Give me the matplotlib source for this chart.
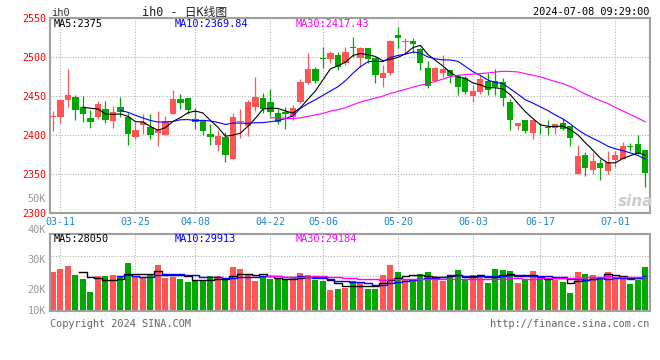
import matplotlib
matplotlib.use("Agg")
import matplotlib.pyplot as plt
import numpy as np
import pandas as pd

plt.rcParams['font.family'] = ['DejaVu Sans Mono', 'Noto Sans CJK SC']

# ih0 daily bars, 2024-03-08 .. 2024-07-05 (80 sessions)
opens = [2423.0, 2423.5, 2445.0, 2448.7, 2436.3, 2421.8, 2423.1, 2433.3, 2418.0, 2435.9,
         2423.5, 2397.4, 2412.4, 2410.7, 2403.0, 2400.4, 2426.9, 2446.2, 2447.4, 2420.5,
         2418.0, 2401.7, 2387.2, 2397.9, 2370.1, 2416.7, 2412.0, 2436.3, 2447.9, 2442.3,
         2428.6, 2429.1, 2423.5, 2442.9, 2466.2, 2484.1, 2499.0, 2497.8, 2502.5, 2491.8,
         2513.2, 2498.2, 2511.1, 2498.2, 2472.6, 2479.0, 2528.2, 2519.6, 2520.9, 2510.2,
         2485.4, 2469.2, 2479.9, 2483.3, 2476.0, 2472.6, 2450.0, 2455.5, 2469.2, 2469.2,
         2468.3, 2442.7, 2411.5, 2420.0, 2403.0, 2408.5, 2410.7, 2409.8, 2415.0, 2411.5,
         2350.0, 2375.2, 2355.1, 2364.5, 2353.8, 2368.0, 2370.1, 2385.9, 2388.5, 2380.8]
closes = [2424.0, 2445.0, 2451.3, 2432.0, 2426.9, 2417.1, 2440.2, 2419.2, 2429.5, 2429.9,
          2401.7, 2406.4, 2417.1, 2400.4, 2406.4, 2418.0, 2446.2, 2441.5, 2432.0, 2416.7,
          2405.5, 2398.1, 2398.7, 2374.4, 2423.5, 2418.4, 2442.7, 2449.1, 2433.3, 2429.1,
          2417.1, 2426.5, 2435.0, 2468.3, 2484.1, 2469.2, 2497.8, 2505.5, 2487.6, 2506.8,
          2512.0, 2511.1, 2497.0, 2476.9, 2479.0, 2520.9, 2523.9, 2520.5, 2516.6, 2492.7,
          2462.8, 2486.3, 2484.1, 2476.0, 2462.0, 2455.5, 2456.8, 2471.3, 2458.0, 2462.0,
          2447.8, 2419.2, 2415.8, 2405.0, 2419.2, 2407.3, 2409.4, 2414.1, 2408.5, 2396.6,
          2373.5, 2358.6, 2366.7, 2358.1, 2365.8, 2374.4, 2385.9, 2384.6, 2375.6, 2351.7]
highs = [2431.0, 2445.5, 2484.6, 2451.3, 2450.0, 2432.0, 2444.0, 2443.2, 2437.2, 2448.7,
         2427.8, 2417.1, 2426.9, 2426.9, 2430.8, 2424.4, 2457.7, 2452.6, 2447.4, 2434.2,
         2418.0, 2414.1, 2406.4, 2404.3, 2428.6, 2432.9, 2444.9, 2473.9, 2454.3, 2459.0,
         2432.9, 2435.5, 2438.4, 2472.0, 2504.7, 2487.6, 2512.4, 2508.0, 2506.8, 2513.2,
         2526.0, 2512.4, 2511.1, 2500.4, 2489.7, 2521.5, 2538.9, 2523.9, 2524.0, 2512.0,
         2495.3, 2487.0, 2502.5, 2484.0, 2478.0, 2476.0, 2464.0, 2476.9, 2480.0, 2484.1,
         2472.6, 2445.8, 2416.0, 2420.0, 2419.2, 2416.2, 2419.2, 2414.1, 2421.4, 2411.5,
         2387.2, 2378.6, 2378.6, 2370.1, 2379.5, 2379.5, 2391.5, 2390.2, 2400.0, 2380.8]
lows = [2405.5, 2416.0, 2436.3, 2419.2, 2416.7, 2409.0, 2421.0, 2415.0, 2409.4, 2423.5,
        2387.6, 2395.3, 2401.7, 2395.7, 2386.3, 2400.0, 2426.9, 2433.3, 2426.9, 2408.5,
        2400.0, 2387.2, 2379.5, 2365.4, 2370.1, 2397.0, 2398.7, 2431.2, 2427.8, 2424.4,
        2414.1, 2407.7, 2420.0, 2441.0, 2466.0, 2466.2, 2485.4, 2492.7, 2483.3, 2489.7,
        2500.4, 2487.6, 2491.8, 2466.2, 2462.0, 2476.9, 2511.1, 2504.7, 2505.0, 2483.3,
        2459.8, 2468.5, 2473.9, 2467.0, 2451.0, 2453.0, 2442.7, 2452.5, 2451.3, 2451.3,
        2437.0, 2406.4, 2406.4, 2403.0, 2395.7, 2402.0, 2400.0, 2402.0, 2406.4, 2385.9,
        2350.0, 2347.9, 2350.0, 2343.2, 2350.9, 2359.4, 2370.1, 2379.9, 2375.6, 2333.8]
volumes = [33400, 35700, 38300, 30600, 27200, 16000, 29700, 29700, 30600, 29700,
           40900, 29700, 28900, 30600, 39200, 28000, 28900, 27200, 24600, 26300,
           26300, 29700, 29700, 26300, 37500, 35700, 30600, 25500, 28900, 27200,
           27200, 26300, 28900, 32300, 30600, 26300, 25500, 17700, 18600, 19500,
           25500, 24600, 18600, 18600, 30600, 39200, 33200, 26300, 25500, 31500,
           33200, 29700, 25500, 30600, 34900, 26300, 30600, 30600, 23700, 35700,
           34900, 34000, 23700, 26300, 34000, 27200, 27200, 26300, 24600, 15200,
           33200, 31500, 30600, 28900, 33200, 28900, 28900, 22900, 26300, 37500]

holidays = ["2024-04-04", "2024-04-05", "2024-05-01", "2024-05-02", "2024-05-03", "2024-06-10"]
tick_dates = ["03-11", "03-25", "04-08", "04-22", "05-06", "05-20", "06-03", "06-17", "07-01"]
price_ticks = [2300, 2350, 2400, 2450, 2500, 2550]
vol_labels = ["50K", "40K", "30K", "20K", "10K"]

ma_price_text = ["MA5:2375", "MA10:2369.84", "MA30:2417.43"]
ma_vol_text = ["MA5:28050", "MA10:29913", "MA30:29184"]

UP = '#ff5555'
DOWN = '#00a800'
MA_COLORS = ['black', '#0000ff', '#ff00ff']
GRID = '#b4b4b4'
FRAME = '#a0a0a0'

days = pd.bdate_range("2024-03-08", "2024-07-05")
days = days[~days.isin(pd.to_datetime(holidays))]
labels = days.strftime("%m-%d")
x = np.arange(len(days))

o = np.array(opens)
c = np.array(closes)
up = c >= o
colors = np.where(up, UP, DOWN)

W, H = 660, 360


def box(left, top, right, bottom):
    return [left / W, 1 - bottom / H, (right - left) / W, (bottom - top) / H]


def px(xp, yp):
    return xp / W, 1 - yp / H


fig = plt.figure(figsize=(6.6, 3.6), dpi=100)
ax = fig.add_axes(box(50, 18, 649.5, 213.3))
axv = fig.add_axes(box(50, 234, 649.5, 311), sharex=ax)

# candles
ax.vlines(x, lows, highs, colors=colors, linewidth=0.9, zorder=2)
body = np.maximum(np.abs(c - o), 0.7)
ax.bar(x, body, bottom=np.minimum(o, c), width=0.82, color=colors, linewidth=0, zorder=3)

# moving averages
close_s = pd.Series(closes)
vol_s = pd.Series(volumes)
for n, col in zip([5, 10, 30], MA_COLORS):
    ax.plot(x, close_s.rolling(n).mean(), color=col, linewidth=0.8, zorder=4)
    axv.plot(x, vol_s.rolling(n).mean(), color=col, linewidth=1.0, drawstyle='steps-mid', zorder=4)

# volume
axv.bar(x, volumes, width=0.8, color=colors, linewidth=0, zorder=2)

tick_pos = [int(np.where(labels == d)[0][0]) for d in tick_dates]

ax.set_xlim(-0.4, 79.55)
ax.set_ylim(2300, 2550)
ax.set_yticks(price_ticks)
ax.set_xticks(tick_pos)
ax.set_xticklabels(tick_dates)
ax.tick_params(axis='y', length=0, pad=3, labelcolor='#ff0000', labelsize=7.2)
ax.tick_params(axis='x', length=0, pad=2.5, labelcolor='#1a86d6', labelsize=7.2)

axv.set_ylim(0, 66000)
axv.set_yticks([12900, 30000, 47100])
axv.tick_params(axis='y', length=0, labelleft=False)
axv.tick_params(axis='x', length=0, labelbottom=False)

for a in (ax, axv):
    a.grid(True, color=GRID, linestyle=(0, (1, 1.5)), linewidth=0.8, zorder=0)
    a.set_axisbelow(True)
    for sp in a.spines.values():
        sp.set_color(FRAME)
        sp.set_linewidth(1.5)

# header texts
fig.text(*px(51, 12.5), "ih0", fontsize=7.5, color='#333333', va='center', ha='left')
fig.text(*px(185, 12.5), "ih0 - 日K线图", fontsize=8.5, color='#222222', va='center', ha='center')
fig.text(*px(649, 12.2), "2024-07-08 09:29:00", fontsize=7.4, color='black', va='center', ha='right')

ma_x = [54, 175, 296]
for xp, txt, col in zip(ma_x, ma_price_text, MA_COLORS):
    fig.text(*px(xp, 24), txt, fontsize=7.4, color=col, va='center', ha='left')
for xp, txt, col in zip(ma_x, ma_vol_text, MA_COLORS):
    fig.text(*px(xp, 238.5), txt, fontsize=7.4, color=col, va='center', ha='left')

# volume scale labels
for yp, txt in zip([199, 230, 260, 290, 311], vol_labels):
    fig.text(*px(46, yp), txt, fontsize=7.4, color='#999999', va='center', ha='right')

fig.text(*px(50, 324), "Copyright 2024 SINA.COM", fontsize=7.4, color='#666666', va='center', ha='left')
fig.text(*px(649, 324), "http://finance.sina.com.cn", fontsize=7.4, color='#666666', va='center', ha='right')

# watermark
fig.text(*px(636, 201), "sina", fontsize=11, color='#cccccc', fontstyle='italic', fontweight='bold',
         family='DejaVu Sans', va='center', ha='center')

fig.savefig("out.png", dpi=100, facecolor='white')
plt.close(fig)
